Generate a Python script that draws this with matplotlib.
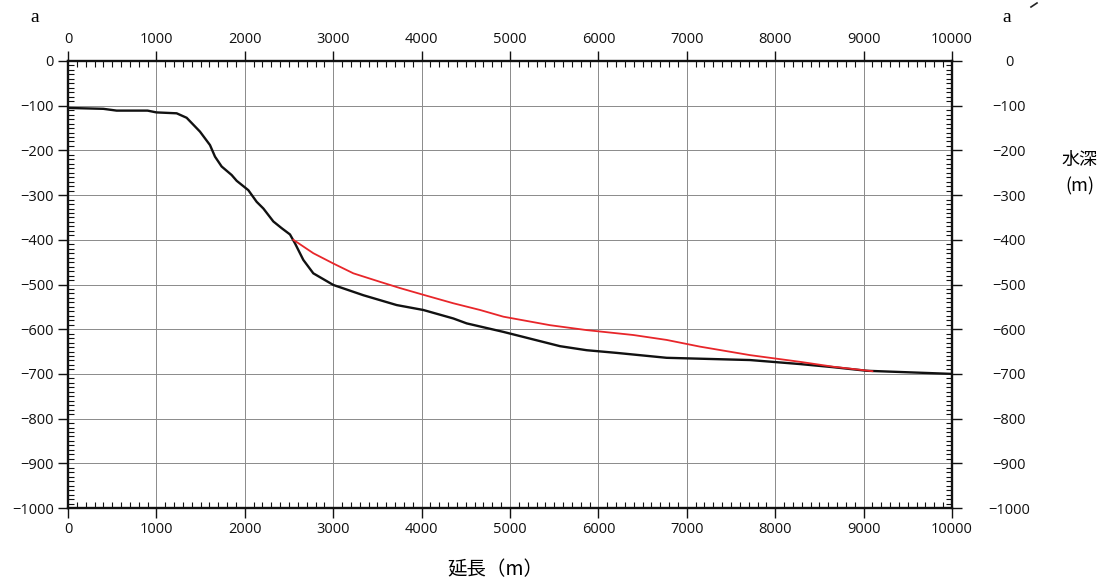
import matplotlib
matplotlib.use("Agg")
import matplotlib.pyplot as plt
from matplotlib.ticker import MultipleLocator, NullLocator
from matplotlib.lines import Line2D

# Data
black_x = [0, 400, 550, 900, 1000, 1229, 1342, 1493, 1606, 1663, 1738, 1851, 1908,
           2040, 2134, 2210, 2323, 2417, 2511, 2568, 2662, 2775, 3001, 3341, 3718,
           4019, 4359, 4510, 4925, 5566, 5867, 6207, 6772, 7715, 8281, 8658, 9035, 10000]
black_y = [-105, -107, -111, -111, -115, -117, -127, -158, -188, -214, -236, -255, -268,
           -289, -315, -330, -359, -374, -388, -408, -445, -475, -501, -524, -546,
           -557, -576, -587, -606, -638, -647, -653, -664, -669, -678, -685, -693, -700]
red_x = [2549, 2775, 3001, 3228, 3529, 3756, 4019, 4359, 4661, 4925, 5452, 5867,
         6395, 6772, 7149, 7715, 8281, 8658, 9100]
red_y = [-400, -430, -453, -475, -494, -508, -523, -542, -557, -572, -591, -602,
         -613, -624, -639, -658, -673, -684, -694]

x_ticks = list(range(0, 10001, 1000))
y_ticks = list(range(0, -1001, -100))

plt.rcParams['font.family'] = ['Open Sans', 'DejaVu Sans']
plt.rcParams['axes.unicode_minus'] = True

fig = plt.figure(figsize=(10.99, 5.88), dpi=100)
ax = fig.add_axes([68/1099, 1-508/588, (952-68)/1099, (508-61)/588])

ax.plot(black_x, black_y, color='#111111', lw=1.7, zorder=3)
ax.plot(red_x, red_y, color='#e8262a', lw=1.3, zorder=4)

ax.set_xlim(0, 10000)
ax.set_ylim(-1000, 0)
ax.set_xticks(x_ticks)
ax.set_yticks(y_ticks)
ax.xaxis.set_minor_locator(MultipleLocator(100))
ax.yaxis.set_minor_locator(MultipleLocator(10))
ax.grid(True, which='major', color='#8a8a8a', lw=0.7)
ax.set_axisbelow(True)

for s in ax.spines.values():
    s.set_linewidth(1.7)
    s.set_color('#111111')

ax.tick_params(which='major', direction='out', length=7, width=1.0,
               top=True, right=True, labeltop=True, labelright=False,
               labelsize=10.5, colors='#111111', pad=3)
ax.tick_params(which='minor', direction='in', length=4, width=0.8,
               top=True, right=True, colors='#111111')

sec = ax.secondary_yaxis('right')
sec.set_yticks(y_ticks)
sec.yaxis.set_minor_locator(NullLocator())
sec.spines['right'].set_visible(False)
sec.tick_params(which='major', length=0, pad=41, labelsize=10.5, colors='#111111')
for lab in sec.get_yticklabels():
    lab.set_horizontalalignment('center')

serif = ['Liberation Serif', 'DejaVu Serif']
fig.text(35/1099, 1-17/588, 'a', fontsize=14, family=serif, ha='center', va='center')
fig.text(1007/1099, 1-17/588, 'a', fontsize=14, family=serif, ha='center', va='center')
fig.add_artist(Line2D([1031/1099, 1037/1099], [1-7/588, 1-3/588], color='#222222', lw=1.2))

cjk = ['Noto Sans CJK JP', 'DejaVu Sans']
fig.text(1079/1099, 1-160/588, '水深', fontsize=13, family=cjk, ha='center', va='center')
fig.text(1080/1099, 1-186/588, '(m)', fontsize=13, family=cjk, ha='center', va='center')
fig.text(495/1099, 1-570/588, '延長（m）', fontsize=14, family=cjk, ha='center', va='center')

fig.savefig('out.png', dpi=100, facecolor='white')
